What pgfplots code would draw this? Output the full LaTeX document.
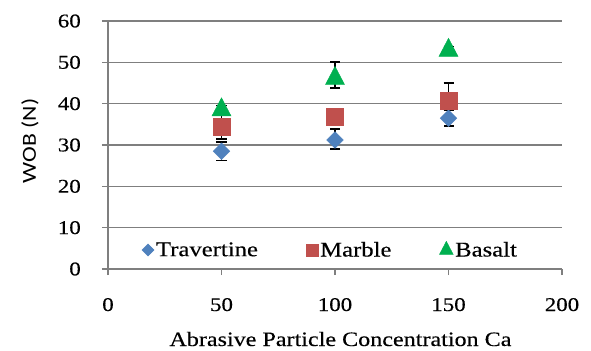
\documentclass[border=0pt]{standalone}
\usepackage{fontspec}
\setmainfont[FakeStretch=1.18, FakeBold=0.3]{Liberation Serif}
\newfontfamily\calib[FakeStretch=1.19]{Carlito}
\usepackage{pgfplots}
\usepackage{pgfplotstable}
\pgfplotsset{compat=1.18}
\definecolor{trav}{HTML}{4F81BD}
\definecolor{marb}{HTML}{C0504D}
\definecolor{bas}{HTML}{00B050}
\definecolor{gridc}{HTML}{7F7F7F}

\pgfplotstableread{
x y ep em
50 28.5 2.2 2.2
100 31.2 2.7 2.2
150 36.5 1.9 1.9
}\trav
\pgfplotstableread{
x y ep em
50 34.4 2.9 2.9
100 36.8 1.5 1.5
150 40.6 4.4 4.4
}\marb
\pgfplotstableread{
x y ep em
50 38.5 1.0 1.0
100 46.1 4.0 2.3
150 52.9 1.0 1.0
}\bas

\begin{document}
\begin{tikzpicture}
\path[use as bounding box] (-108bp,-82bp) rectangle (483bp,269bp);
\begin{axis}[
  scale only axis, width=454bp, height=248bp,
  at={(0,0)}, anchor=south west,
  xmin=0, xmax=200, ymin=0, ymax=60,
  xtick={0,50,100,150,200}, ytick={0,10,20,30,40,50,60},
  axis x line=bottom, axis y line=left,
  axis line style={gridc, line width=1.3bp, -},
  tick style={gridc, line width=1.3bp},
  major tick length=6bp, tick align=outside,
  ymajorgrids, grid style={gridc, line width=1.3bp},
  /pgf/number format/assume math mode=true,
  tick label style={font=\fontsize{19.5}{20}\selectfont, inner sep=0pt},
  xticklabel style={anchor=base, yshift=-36bp},
  yticklabel style={anchor=east, xshift=-21bp},
  xlabel={Abrasive Particle Concentration Ca},
  every axis x label/.style={font=\fontsize{20.5}{22}\selectfont, at={(axis description cs:0.512,0)}, anchor=base, yshift=-77bp},
  ylabel={\calib WOB (N)},
  every axis y label/.style={font=\fontsize{20}{22}\selectfont, at={(axis description cs:-0.172,0.516)}, rotate=90, anchor=center},
  legend columns=3,
  legend style={at={(axis description cs:0.490,0.0766)}, anchor=center, draw=none, fill=none,
    font=\fontsize{21}{22}\selectfont, nodes={inner sep=2bp},
    /tikz/every even column/.append style={column sep=46bp}},
  legend image code/.code={\draw[#1, /tikz/every mark/.append style={scale=0.72}] plot coordinates {(0bp,0bp)};},
  clip=false,
]
% error bars first
\addplot[forget plot, only marks, mark=none, black,
  error bars/.cd, y dir=both, y explicit, error mark=-,
  error bar style={line width=1.4bp, black},
  error mark options={rotate=90, mark size=5bp, line width=1.4bp, black}]
  table[x=x, y=y, y error plus=ep, y error minus=em] {\trav};
\addplot[forget plot, only marks, mark=none, black,
  error bars/.cd, y dir=both, y explicit, error mark=-,
  error bar style={line width=1.4bp, black},
  error mark options={rotate=90, mark size=5bp, line width=1.4bp, black}]
  table[x=x, y=y, y error plus=ep, y error minus=em] {\marb};
\addplot[forget plot, only marks, mark=none, black,
  error bars/.cd, y dir=both, y explicit, error mark=-,
  error bar style={line width=1.4bp, black},
  error mark options={rotate=90, mark size=5bp, line width=1.4bp, black}]
  table[x=x, y=y, y error plus=ep, y error minus=em] {\bas};
% markers
\addplot[only marks, mark=square*, mark size=5.9bp, mark options={rotate=45, draw=trav, fill=trav}]
  table[x=x, y=y] {\trav};
\addlegendentry{Travertine}
\addplot[only marks, mark=square*, mark size=8.5bp, mark options={draw=marb, fill=marb}]
  table[x=x, y=y] {\marb};
\addlegendentry{Marble}
\addplot[only marks, mark=triangle*, mark size=11bp, mark options={yscale=1.1, draw=bas, fill=bas}]
  table[x=x, y=y] {\bas};
\addlegendentry{Basalt}
\end{axis}
\end{tikzpicture}
\end{document}
